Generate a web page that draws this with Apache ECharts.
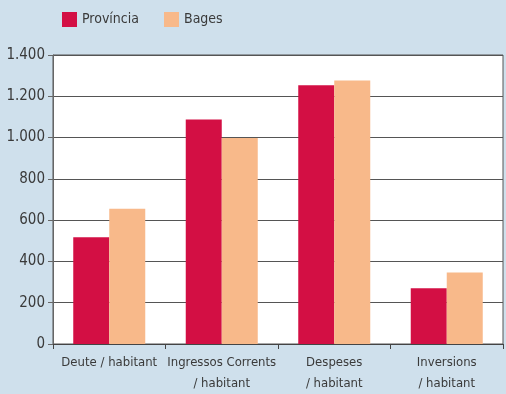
<!DOCTYPE html>
<html><head><meta charset="utf-8">
<script src="https://cdn.jsdelivr.net/npm/echarts@6/dist/echarts.min.js"></script>
<style>html,body{margin:0;padding:0;background:#cfe0ec;}#c{width:506px;height:394px;}</style>
</head><body><div id="c"></div>
<script>
var categories = ['Deute / habitant', 'Ingressos Corrents\n/ habitant', 'Despeses\n/ habitant', 'Inversions\n/ habitant'];
var provincia = [517, 1087, 1253, 270];
var bages = [655, 998, 1277, 346];
var yTicks = [0, 200, 400, 600, 800, 1000, 1200, 1400];
var FONT = '"Liberation Sans Narrow","DejaVu Sans Condensed",sans-serif';
var chart = echarts.init(document.getElementById('c'));
chart.setOption({
  backgroundColor: '#cfe0ec',
  animation: false,
  textStyle: {fontFamily: FONT},
  legend: {
    left: 57, top: 7, itemWidth: 15, itemHeight: 15, itemGap: 25,
    icon: 'rect',
    textStyle: {fontFamily: FONT, fontSize: 14, color: '#3a3a3a'},
    data: ['Província', 'Bages']
  },
  grid: {left: 53, right: 3, top: 55, bottom: 44, show: true, backgroundColor: '#fff', borderColor: '#555', borderWidth: 1},
  xAxis: {
    type: 'category', data: categories,
    axisLine: {lineStyle: {color: '#444', width: 1}},
    axisTick: {show: true, length: 5, lineStyle: {color: '#444'}},
    axisLabel: {fontFamily: FONT, fontSize: 13, color: '#3a3a3a', lineHeight: 21, margin: 8, interval: 0}
  },
  yAxis: {
    type: 'value', min: yTicks[0], max: yTicks[yTicks.length - 1], interval: 200,
    axisLine: {show: true, lineStyle: {color: '#666', width: 1}},
    axisTick: {show: true, length: 5, lineStyle: {color: '#666'}},
    splitLine: {lineStyle: {color: '#555', width: 1}},
    axisLabel: {fontFamily: FONT, fontSize: 15, color: '#3a3a3a', margin: 8,
      formatter: function (v) { return String(v).replace(/\B(?=(\d{3})+(?!\d))/g, '.'); }}
  },
  series: [
    {name: 'Província', type: 'bar', data: provincia, itemStyle: {color: '#d30f44'}, barGap: '0%', barCategoryGap: '36%'},
    {name: 'Bages', type: 'bar', data: bages, itemStyle: {color: '#f8b98a'}, barGap: '0%', barCategoryGap: '36%'}
  ]
});
</script></body></html>
